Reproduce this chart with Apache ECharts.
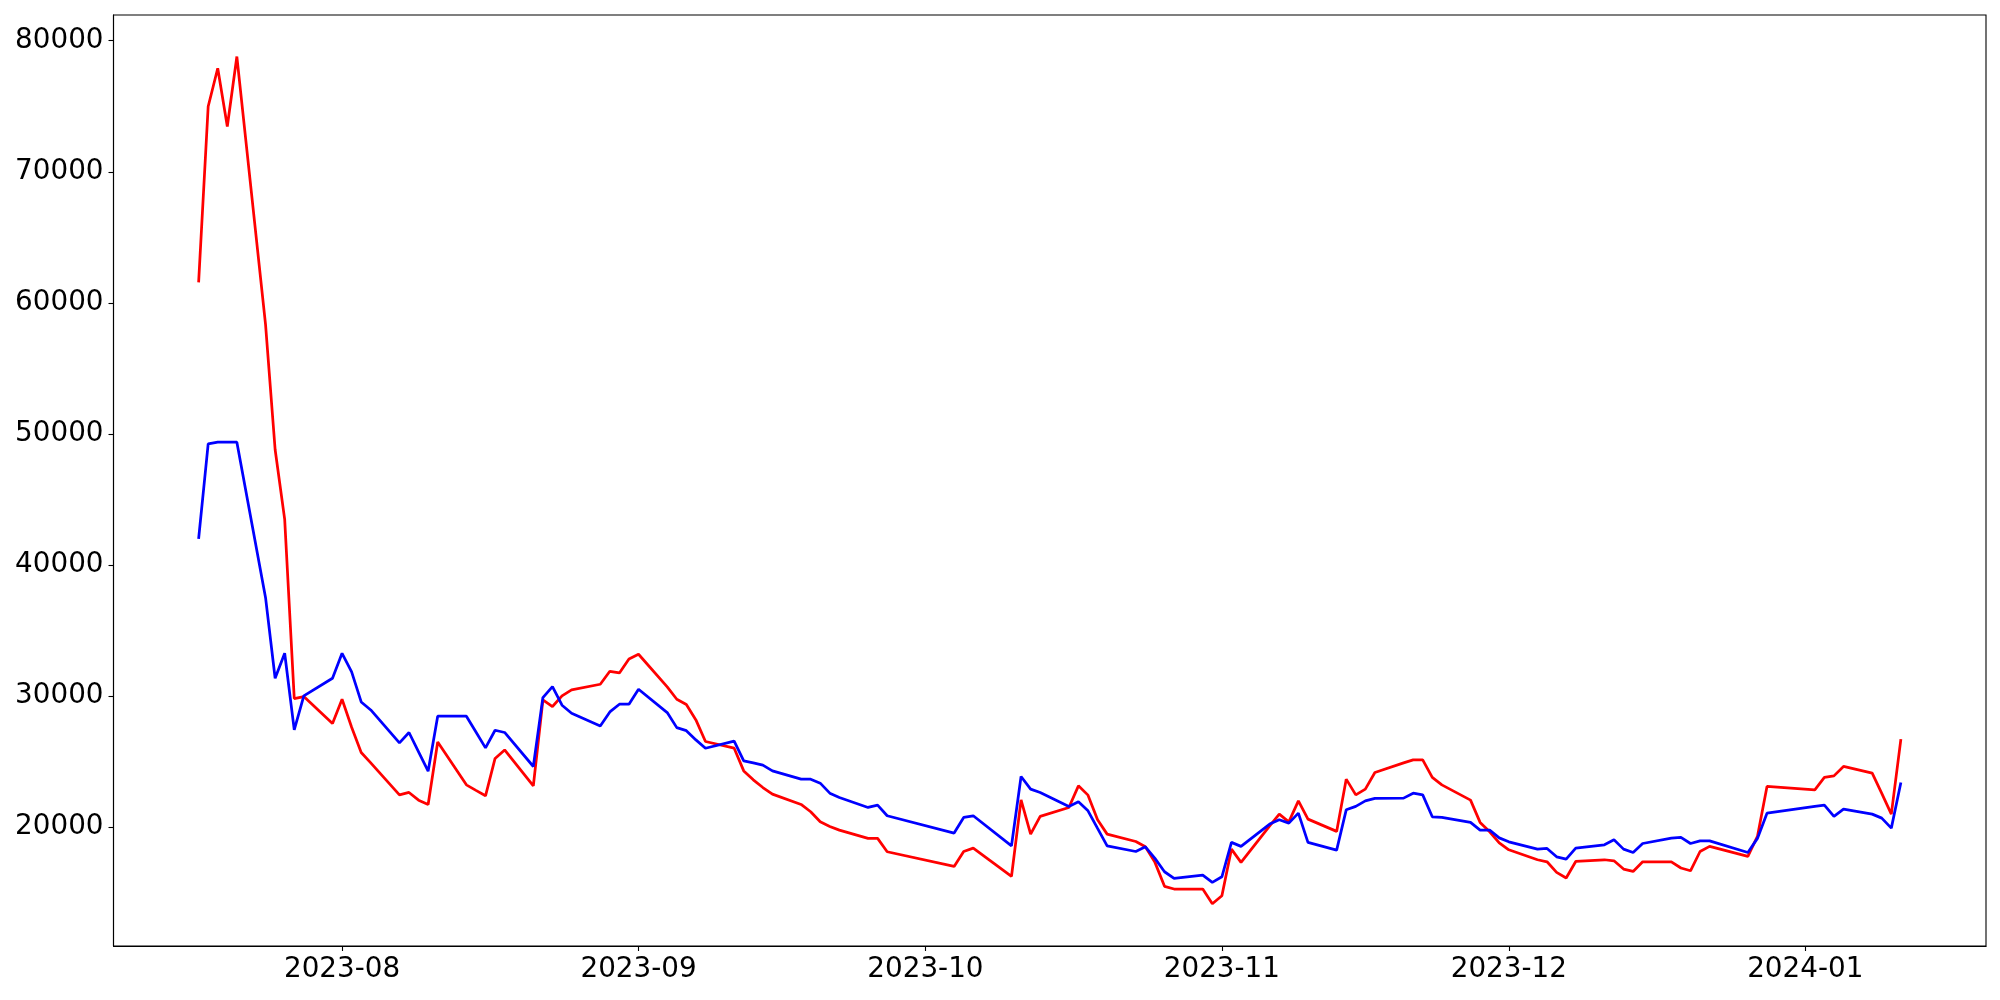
<!DOCTYPE html>
<html><head><meta charset="utf-8">
<script src="https://cdn.jsdelivr.net/npm/echarts@6/dist/echarts.min.js"></script>
<style>html,body{margin:0;padding:0;background:#fff}#c{width:2000px;height:1000px}</style>
</head><body><div id="c"></div>
<script>
const dates = [
'2023-07-17','2023-07-18','2023-07-19','2023-07-20','2023-07-21',
'2023-07-24','2023-07-25','2023-07-26','2023-07-27','2023-07-28',
'2023-07-31','2023-08-01','2023-08-02','2023-08-03','2023-08-04',
'2023-08-07','2023-08-08','2023-08-09','2023-08-10','2023-08-11',
'2023-08-14','2023-08-15','2023-08-16','2023-08-17','2023-08-18',
'2023-08-21','2023-08-22','2023-08-23','2023-08-24','2023-08-25',
'2023-08-28','2023-08-29','2023-08-30','2023-08-31','2023-09-01',
'2023-09-04','2023-09-05','2023-09-06','2023-09-07','2023-09-08',
'2023-09-11','2023-09-12','2023-09-13','2023-09-14','2023-09-15',
'2023-09-18','2023-09-19','2023-09-20','2023-09-21','2023-09-22',
'2023-09-25','2023-09-26','2023-09-27',
'2023-10-04','2023-10-05','2023-10-06',
'2023-10-10','2023-10-11','2023-10-12','2023-10-13',
'2023-10-16','2023-10-17','2023-10-18','2023-10-19','2023-10-20',
'2023-10-23','2023-10-24','2023-10-25','2023-10-26','2023-10-27',
'2023-10-30','2023-10-31','2023-11-01','2023-11-02','2023-11-03',
'2023-11-06','2023-11-07','2023-11-08','2023-11-09','2023-11-10',
'2023-11-13','2023-11-14','2023-11-15','2023-11-16','2023-11-17',
'2023-11-20','2023-11-21','2023-11-22','2023-11-23','2023-11-24',
'2023-11-27','2023-11-28','2023-11-29','2023-11-30','2023-12-01',
'2023-12-04','2023-12-05','2023-12-06','2023-12-07','2023-12-08',
'2023-12-11','2023-12-12','2023-12-13','2023-12-14','2023-12-15',
'2023-12-18','2023-12-19','2023-12-20','2023-12-21','2023-12-22',
'2023-12-26','2023-12-27','2023-12-28',
'2024-01-02','2024-01-03','2024-01-04','2024-01-05',
'2024-01-08','2024-01-09','2024-01-10','2024-01-11'
];
const redValues = [
61565,74980,77900,73450,78790,
58340,48810,43476,29810,29960,
27900,29757,27620,25694,24900,
22462,22645,22058,21730,26500,
23225,22805,22390,25238,25890,
23150,29700,29200,30010,30465,
30900,31890,31760,32830,33190,
30700,29755,29360,28180,26530,
26020,24290,23605,23020,22515,
21730,21170,20405,20050,19770,
19140,19140,18120,
17000,18140,18400,
16240,22080,19465,20815,
21500,23150,22440,20560,19465,
18905,18500,17310,15480,15275,
15275,14155,14765,18320,17310,
20100,20990,20405,22000,20610,
19675,23660,22460,22900,24170,
24900,25130,25130,23790,23225,
22060,20360,19645,18800,18270,
17510,17355,16550,16115,17380,
17510,17430,16800,16620,17355,
17355,16880,16670,18140,18530,
17770,19290,23100,
22845,23790,23910,24630,
24115,22570,20990,26710
];
const blueValues = [
41990,49240,49370,49370,49370,
37508,31357,33262,27416,30010,
31357,33262,31838,29550,28940,
26425,27220,25740,24270,28460,
28460,27255,26045,27390,27220,
24625,29885,30725,29300,28690,
27720,28790,29375,29375,30520,
28740,27590,27360,26655,26020,
26555,25050,24900,24725,24290,
23660,23660,23355,22590,22265,
21500,21680,20865,
19545,20740,20865,
18575,23865,22900,22645,
21580,21930,21245,19900,18575,
18140,18500,17615,16595,16090,
16340,15785,16210,18835,18530,
20230,20560,20305,21065,18835,
18245,21320,21580,22000,22190,
22210,22590,22460,20790,20740,
20360,19770,19770,19180,18880,
18320,18370,17735,17560,18395,
18650,19030,18320,18065,18750,
19165,19215,18750,18955,18955,
18065,19140,21065,
21580,21680,20815,21370,
20990,20685,19925,23400
];
const yTickValues = [20000,30000,40000,50000,60000,70000,80000];
const xTickDates = ['2023-08-01','2023-09-01','2023-10-01','2023-11-01','2023-12-01','2024-01-01'];

function ts(s){const p=s.split('-').map(Number);return Date.UTC(p[0],p[1]-1,p[2]);}
const t0 = ts(dates[0]), t1 = ts(dates[dates.length-1]);
const xPad = (t1 - t0) * 0.05;
const xTicks = xTickDates.map(ts);
const redData = dates.map((d,i)=>[ts(d), redValues[i]]);
const blueData = dates.map((d,i)=>[ts(d), blueValues[i]]);
const font = {fontFamily:'DejaVu Sans', fontSize:27.8, color:'#000'};

const chart = echarts.init(document.getElementById('c'), null, {renderer:'canvas'});
chart.setOption({
  animation:false,
  backgroundColor:'#fff',
  grid:{left:113.5,right:14,top:15,bottom:54,show:true,borderColor:'#000',borderWidth:1.1,containLabel:false},
  xAxis:{
    type:'value', min:t0-xPad, max:t1+xPad, scale:true,
    axisLine:{show:true,onZero:false,lineStyle:{color:'#000',width:1.1}},
    axisTick:{show:true,length:5,lineStyle:{color:'#000',width:1.1},customValues:xTicks},
    axisLabel:Object.assign({margin:10,customValues:xTicks,
      formatter:function(v){const d=new Date(v);return d.getUTCFullYear()+'-'+String(d.getUTCMonth()+1).padStart(2,'0');}},font),
    splitLine:{show:false}
  },
  yAxis:{
    type:'value', min:10930, max:81960, scale:true,
    axisLine:{show:true,onZero:false,lineStyle:{color:'#000',width:1.1}},
    axisTick:{show:true,length:5,lineStyle:{color:'#000',width:1.1},customValues:yTickValues},
    axisLabel:Object.assign({margin:10,customValues:yTickValues,formatter:function(v){return String(v);}},font),
    splitLine:{show:false}
  },
  series:[
    {type:'line',data:redData,showSymbol:false,symbol:'none',lineStyle:{color:'#ff0000',width:2.75},itemStyle:{color:'#ff0000'}},
    {type:'line',data:blueData,showSymbol:false,symbol:'none',lineStyle:{color:'#0000ff',width:2.75},itemStyle:{color:'#0000ff'}}
  ]
});
</script></body></html>
